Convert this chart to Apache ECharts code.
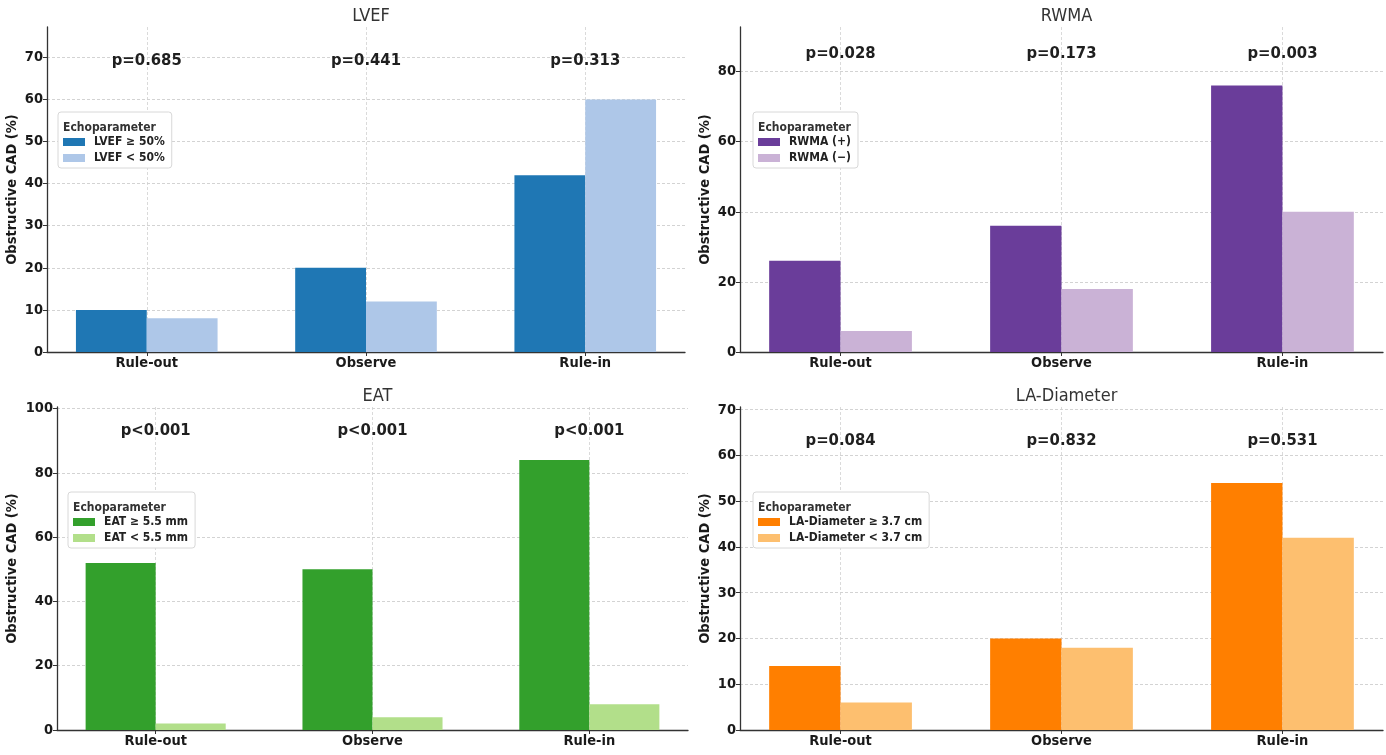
<!DOCTYPE html>
<html><head><meta charset="utf-8">
<script src="https://cdn.jsdelivr.net/npm/echarts@6/dist/echarts.min.js"></script>
<style>html,body{margin:0;padding:0;background:#fff}#c{width:1386px;height:755px}</style>
</head><body><div id="c"></div>
<script>
const categories = ['Rule-out', 'Observe', 'Rule-in'];

const lvefTitle = 'LVEF';
const lvefNames = ['LVEF ≥ 50%', 'LVEF < 50%'];
const lvefHigh = [10, 20, 42];
const lvefLow = [8, 12, 60];
const lvefP = ['p=0.685', 'p=0.441', 'p=0.313'];
const lvefTicks = [0, 10, 20, 30, 40, 50, 60, 70];

const rwmaTitle = 'RWMA';
const rwmaNames = ['RWMA (+)', 'RWMA (\u2212)'];
const rwmaPos = [26, 36, 76];
const rwmaNeg = [6, 18, 40];
const rwmaP = ['p=0.028', 'p=0.173', 'p=0.003'];
const rwmaTicks = [0, 20, 40, 60, 80];

const eatTitle = 'EAT';
const eatNames = ['EAT ≥ 5.5 mm', 'EAT < 5.5 mm'];
const eatHigh = [52, 50, 84];
const eatLow = [2, 4, 8];
const eatP = ['p<0.001', 'p<0.001', 'p<0.001'];
const eatTicks = [0, 20, 40, 60, 80, 100];

const laTitle = 'LA-Diameter';
const laNames = ['LA-Diameter ≥ 3.7 cm', 'LA-Diameter < 3.7 cm'];
const laHigh = [14, 20, 54];
const laLow = [6, 18, 42];
const laP = ['p=0.084', 'p=0.832', 'p=0.531'];
const laTicks = [0, 10, 20, 30, 40, 50, 60, 70];

const FONT = '"DejaVu Sans Condensed", "DejaVu Sans", sans-serif';

const panels = [
  { title: lvefTitle, names: lvefNames, a: lvefHigh, b: lvefLow, p: lvefP, ticks: lvefTicks, yMax: 77.2,
    colors: ['#1f77b4', '#aec7e8'], grid: { left: 47, top: 27, width: 638, height: 325 }, nameGap: 27,
    legend: { left: 58, top: 112 } },
  { title: rwmaTitle, names: rwmaNames, a: rwmaPos, b: rwmaNeg, p: rwmaP, ticks: rwmaTicks, yMax: 92.7,
    colors: ['#6a3d9a', '#cab2d6'], grid: { left: 740, top: 27, width: 643, height: 325 }, nameGap: 27,
    legend: { left: 753, top: 112 } },
  { title: eatTitle, names: eatNames, a: eatHigh, b: eatLow, p: eatP, ticks: eatTicks, yMax: 100.5,
    colors: ['#33a02c', '#b2df8a'], grid: { left: 57, top: 407, width: 631, height: 323 }, nameGap: 37,
    legend: { left: 68, top: 492 } },
  { title: laTitle, names: laNames, a: laHigh, b: laLow, p: laP, ticks: laTicks, yMax: 70.6,
    colors: ['#ff7f00', '#fdbf6f'], grid: { left: 740, top: 407, width: 643, height: 323 }, nameGap: 27,
    legend: { left: 753, top: 492 } }
];

const xMin = -0.455, xMax = 2.455;
const catIdx = categories.map((c, i) => i);

const option = {
  animation: false,
  backgroundColor: '#fff',
  textStyle: { fontFamily: FONT },
  title: [], legend: [], grid: [], xAxis: [], yAxis: [], series: []
};

panels.forEach((pn, i) => {
  const g = pn.grid;
  option.grid.push({ left: g.left, top: g.top, width: g.width, height: g.height, containLabel: false });
  option.title.push({
    text: pn.title, left: g.left + g.width / 2, top: g.top - 25, textAlign: 'center',
    textStyle: { fontFamily: FONT, fontSize: 18, fontWeight: 'normal', color: '#333' }
  });
  option.xAxis.push({
    type: 'value', gridIndex: i, min: xMin, max: xMax,
    axisLine: { show: true, onZero: false, lineStyle: { color: '#333', width: 1.3 } },
    axisTick: { show: true, customValues: catIdx, length: 4, lineStyle: { color: '#333' } },
    axisLabel: { customValues: catIdx, formatter: v => categories[Math.round(v)] || '',
      fontFamily: FONT, fontSize: 14.5, fontWeight: 'bold', color: '#1a1a1a', margin: 4 },
    splitLine: { show: true, lineStyle: { color: '#d0d0d0', type: [3, 2], width: 0.8 } }
  });
  option.yAxis.push({
    type: 'value', gridIndex: i, min: 0, max: pn.yMax,
    name: 'Obstructive CAD (%)', nameLocation: 'middle', nameGap: pn.nameGap, nameRotate: 90,
    nameTextStyle: { fontFamily: FONT, fontSize: 14.5, fontWeight: 'bold', color: '#1a1a1a' },
    axisLine: { show: true, onZero: false, lineStyle: { color: '#333', width: 1.3 } },
    axisTick: { show: true, customValues: pn.ticks, length: 4, lineStyle: { color: '#333' } },
    axisLabel: { customValues: pn.ticks, fontFamily: FONT, fontSize: 14.5, fontWeight: 'bold', color: '#1a1a1a', margin: 4 },
    splitLine: { show: true, lineStyle: { color: '#c8c8c8', type: [3, 2], width: 0.8 } }
  });
  [pn.a, pn.b].forEach((arr, k) => {
    option.series.push({
      type: 'bar', name: pn.names[k], xAxisIndex: i, yAxisIndex: i,
      data: arr.map((v, j) => [j, v]), barWidth: '32.3%', barGap: '0%',
      itemStyle: { color: pn.colors[k] }, z: 3
    });
  });
  const top = Math.max(...pn.a, ...pn.b) + 9.2;
  option.series.push({
    type: 'scatter', name: 'p-' + pn.title, xAxisIndex: i, yAxisIndex: i, silent: true,
    symbolSize: 0.1, itemStyle: { color: '#ffffff', opacity: 1 },
    data: pn.p.map((t, j) => [j, top]),
    label: { show: true, position: 'inside', formatter: prm => pn.p[prm.dataIndex], opacity: 1,
      fontFamily: FONT, fontSize: 16.5, fontWeight: 'bold', color: '#1f1f1f' }, z: 5
  });
  option.legend.push({
    data: pn.names, orient: 'vertical', left: pn.legend.left, top: pn.legend.top,
    icon: 'rect', itemWidth: 22, itemHeight: 8, itemGap: 4,
    padding: [24, 7, 4, 5], backgroundColor: '#fff', borderColor: '#d8d8d8', borderWidth: 1, borderRadius: 3,
    textStyle: { fontFamily: FONT, fontSize: 12, fontWeight: 'bold', color: '#222', padding: [0, 0, 0, 4] },
    selectedMode: false
  });
});

// legend titles
panels.forEach((pn, i) => {
  option.title.push({
    text: 'Echoparameter', left: pn.legend.left, top: pn.legend.top + 5,
    textAlign: 'left', z: 10, id: 'lt' + i,
    textStyle: { fontFamily: FONT, fontSize: 12, fontWeight: 'bold', color: '#333' }
  });
});

const chart = echarts.init(document.getElementById('c'), null, { renderer: 'canvas' });
chart.setOption(option);

// center legend titles over the legend boxes
const legendViews = chart._componentsViews.filter(v => v.type === 'legend');
const titles = option.title.slice();
legendViews.forEach((lv, i) => {
  const r = lv.group.getBoundingRect();
  const cx = lv.group.x + r.x + r.width / 2;
  titles[panels.length + i] = Object.assign({}, titles[panels.length + i], { left: cx, textAlign: 'center' });
});
chart.setOption({ title: titles });
</script></body></html>
